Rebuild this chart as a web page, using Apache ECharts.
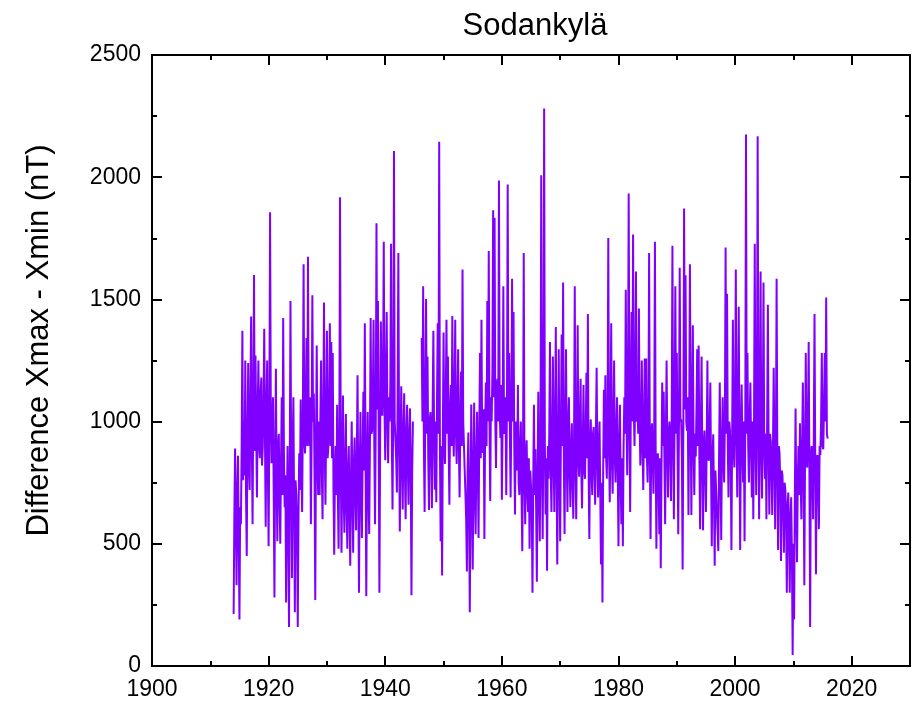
<!DOCTYPE html>
<html>
<head>
<meta charset="utf-8">
<script src="https://cdn.jsdelivr.net/npm/echarts@6/dist/echarts.min.js"></script>
<style>
  html, body { margin: 0; padding: 0; background: #fff; }
  #chart { width: 914px; height: 706px; }
</style>
</head>
<body>
<div id="chart"></div>
<script>
// Samples (nT), 8 per year, three continuous segments
const stepYears = 0.125;

const startA = 1914.0;
const segA = [
  213, 620, 890, 640, 330, 700,
  860, 520, 190, 650, 580, 900, 1372, 760,
  1000, 780, 1250, 700, 450, 950, 1240, 820,
  720, 1080, 1430, 900, 580, 1100, 1600, 880,
  1270, 950, 690, 1050, 1250, 900, 850, 1120,
  1180, 820, 900, 1080, 1380, 930, 570, 1050,
  1250, 800, 490, 1000, 1857, 1050, 830, 980,
  1100, 700, 280, 850, 1216, 760, 510, 900,
  950, 680, 500, 820, 1100, 700, 1424, 880,
  650, 780, 260, 640, 900, 560, 160, 820,
  1493, 780, 360, 900, 1100, 640, 220, 760,
  700, 560, 160, 620, 870, 720, 1090, 820,
  630, 1050, 1644, 920, 870, 1080, 1342, 900,
  1675, 1000, 900, 1100, 580, 940, 1517, 1000,
  1115, 780, 270, 900, 1311, 850, 700, 1000,
  700, 1020, 1250, 800, 600, 1000, 1487, 900,
  660, 1000, 1372, 850, 900, 1050, 1402, 900,
  1326, 850, 1281, 720, 455, 800, 900, 700,
  1069, 700, 480, 900, 1918, 850, 463, 800,
  1107, 700, 545, 820, 1031, 650, 480, 800,
  900, 620, 410, 760, 1000, 700, 463, 820,
  935, 700, 555, 850, 1190, 720, 300, 780,
  1039, 700, 524, 860, 1122, 800, 1402, 850,
  285, 800, 1039, 720, 540, 900, 1424, 950,
  962, 1100, 1417, 900, 580, 1000, 1812, 1050,
  1493, 950, 300, 900, 1410, 1100, 1024, 1200,
  1736, 1050, 842, 1150, 1448, 1000, 830, 1100,
  1000, 1150, 1728, 950, 640, 1050, 2107, 1000,
  1000, 850, 710, 1100, 1690, 950, 550, 900,
  1145, 850, 640, 950, 1116, 800, 600, 950,
  1069, 820, 660, 950, 1054, 800, 290, 800,
  1000
];

const gapYear = 1945.7;

const startB = 1946.255;
const segB = [
  1342, 1000, 1554, 900,
  630, 1100, 1502, 950, 1266, 850, 638, 1000,
  1039, 900, 645, 1050, 1372, 950, 721, 1000,
  670, 1100, 1402, 950, 2145, 900, 510, 900,
  370, 950, 1365, 900, 827, 1100, 1417, 950,
  1266, 900, 660, 1050, 1150, 900, 1432, 1000,
  857, 1100, 1417, 950, 827, 1050, 1296, 900,
  690, 1000, 1205, 900, 1622, 1000, 900, 800,
  705, 600, 387, 800, 955, 650, 220, 700,
  1070, 700, 395, 800, 1077, 700, 539, 850,
  1040, 800, 524, 950, 1281, 850, 1417, 900,
  872, 1050, 520, 950, 1160, 900, 1493, 1000,
  1698, 1000, 675, 1100, 1000, 1200, 1865, 1100,
  1834, 1000, 810, 1150, 1175, 1000, 1986, 1050,
  933, 1150, 680, 1000, 1554, 950, 963, 1100,
  700, 1100, 1970, 1000, 1281, 950, 690, 1050,
  1584, 1000, 1448, 900, 620, 1000, 955, 800,
  1150, 750, 700, 900, 1000, 700, 470, 850,
  1690, 800, 580, 850, 924, 700, 630, 850,
  480, 800, 735, 650, 300, 750, 1069, 700,
  887, 650, 345, 800, 1122, 700, 510, 900,
  2008, 850, 520, 1000, 2281, 900, 620, 850,
  390, 900, 766, 950, 1326, 800, 630, 900,
  1266, 850, 630, 1000, 1387, 800, 415, 850,
  1296, 800, 510, 950, 1356, 900, 1569, 850,
  540, 950, 1296, 850, 630, 1000, 1100, 800,
  650, 900, 993, 750, 603, 900, 1554, 850,
  600, 950, 1394, 850, 774, 1000, 1175, 800,
  645, 900, 1150, 800, 766, 950, 1200, 850,
  1440, 800, 520, 900, 1009, 800, 700, 950,
  978, 800, 660, 950, 1220, 850, 690, 900,
  1000, 700, 415, 750, 260, 800, 1130, 850,
  1190, 850, 766, 1000, 1751, 900, 670, 950,
  1402, 850, 705, 1000, 1250, 850, 751, 950,
  1100, 800, 490, 900, 1069, 750, 580, 850,
  490, 900, 1100, 950, 1539, 1000, 781, 1100,
  1933, 1050, 630, 1100, 1448, 1000, 1766, 1050,
  900, 1150, 1614, 1000, 1100, 950, 1463, 1000,
  820, 950, 1250, 900, 720, 1000, 1258, 850,
  1258, 850, 751, 950, 1690, 900, 520, 950,
  993, 850, 705, 950, 1736, 900, 480, 850,
  870, 750, 539, 850, 400, 800, 1160, 900,
  1122, 850, 580, 950, 1250, 900, 690, 950,
  1000, 900, 675, 1000, 1720, 950, 600, 1050,
  1554, 950, 1281, 900, 539, 1000, 1629, 1000,
  1010, 850, 395, 1000, 1872, 1050, 1599, 1000,
  963, 1100, 618, 1000, 1644, 1050, 618, 1050,
  1394, 900, 700, 950, 857, 1050, 1296, 900,
  1311, 850, 560, 950, 1266, 850, 555, 900,
  963, 800, 630, 900, 1250, 850, 840, 950,
  1160, 800, 490, 850, 948, 700, 410, 800
];

const startC = 1997.125;
const segC = [
  470, 850, 1160, 800, 516, 900, 1100, 850,
  751, 1000, 1712, 950, 1523, 900, 690, 1000,
  963, 850, 475, 950, 1417, 900, 812, 1050,
  1622, 950, 690, 1050, 1470, 900, 475, 950,
  1152, 900, 751, 1000, 510, 1000, 2175, 950,
  1281, 900, 751, 1000, 1160, 900, 690, 1000,
  600, 1000, 1728, 950, 700, 1050, 2168, 1000,
  600, 1000, 1614, 900, 685, 1000, 1569, 900,
  766, 950, 600, 1000, 1478, 900, 620, 950,
  918, 800, 618, 900, 1220, 850, 560, 900,
  1584, 850, 475, 900, 872, 750, 430, 800,
  781, 650, 463, 750, 720, 600, 300, 650,
  710, 550, 300, 600, 690, 450, 45, 500,
  190, 700, 1054, 650, 425, 750, 900, 700,
  993, 750, 600, 900, 1160, 800, 330, 850,
  1281, 850, 812, 1000, 1326, 800, 160, 850,
  900, 800, 600, 950, 1440, 850, 375, 850,
  863, 750, 560, 900, 863, 1000, 1281, 900,
  887, 1050, 1281, 1000, 1508, 950, 930
];

const xTicksMajor = 20, xTicksMinor = 10;
const yTicks = 500;

function seg(start, vals) { return vals.map((v, i) => [start + i * stepYears, v]); }
const seriesData = [].concat(seg(startA, segA), [[gapYear, null]], seg(startB, segB), seg(startC, segC));

const FONT = 'Liberation Sans, Arial, sans-serif';
const black = '#000';
const lineCommon = { show: true, lineStyle: { color: black, width: 2 } };
const plain = v => String(v);

function xAxis(pos, interval, tickLen, labels) {
  return {
    type: 'value', position: pos, min: 1900, max: 2030, interval: interval,
    axisLine: lineCommon,
    axisTick: { show: true, inside: true, length: tickLen, lineStyle: { color: black, width: 2 } },
    axisLabel: { show: labels, color: black, fontFamily: FONT, fontSize: 23, margin: 12, showMaxLabel: false, formatter: plain },
    splitLine: { show: false }
  };
}
function yAxis(pos, labels) {
  const a = {
    type: 'value', position: pos, min: 0, max: 2500, interval: yTicks,
    axisLine: lineCommon,
    axisTick: { show: true, inside: true, length: 10, lineStyle: { color: black, width: 2 } },
    minorTick: { show: true, splitNumber: 2, length: 5, lineStyle: { color: black, width: 2 } },
    axisLabel: { show: labels, color: black, fontFamily: FONT, fontSize: 23, margin: 11, formatter: plain },
    splitLine: { show: false }, minorSplitLine: { show: false }
  };
  if (labels) {
    a.name = 'Difference Xmax - Xmin (nT)';
    a.nameLocation = 'middle';
    a.nameRotate = 90;
    a.nameGap = 97;
    a.nameTextStyle = { color: black, fontFamily: FONT, fontSize: 31, padding: [0, 0, 0, 40] };
  }
  return a;
}

const chart = echarts.init(document.getElementById('chart'), null, { renderer: 'canvas' });
chart.setOption({
  animation: false,
  backgroundColor: '#fff',
  title: {
    text: 'Sodankylä', left: 530, top: 6, textAlign: 'center',
    textStyle: { color: black, fontFamily: FONT, fontSize: 31, fontWeight: 'normal' }
  },
  grid: { left: 152, right: 4, top: 55, bottom: 40 },
  xAxis: [
    xAxis('bottom', xTicksMajor, 10, true),
    xAxis('bottom', xTicksMinor, 5, false),
    xAxis('top', xTicksMajor, 10, false),
    xAxis('top', xTicksMinor, 5, false)
  ],
  yAxis: [yAxis('left', true), yAxis('right', false)],
  series: [{
    type: 'line', xAxisIndex: 0, yAxisIndex: 0,
    data: seriesData, showSymbol: false, symbol: 'none',
    connectNulls: false, sampling: null,
    lineStyle: { color: '#8000ff', width: 2 },
    z: 1
  }]
});
</script>
</body>
</html>
